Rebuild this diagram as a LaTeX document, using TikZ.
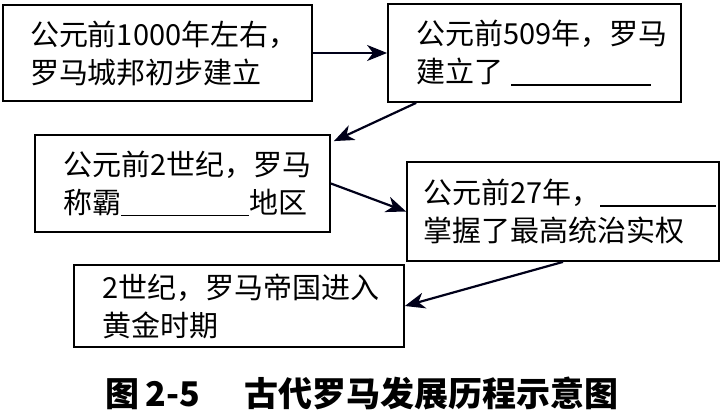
\documentclass[tikz,border=0pt]{standalone}
\usepackage{fontspec}
\newfontfamily\cjk{Noto Sans CJK SC}
\usetikzlibrary{arrows.meta}
\begin{document}
\begin{tikzpicture}[>={Stealth[length=10pt,width=8pt,inset=3pt]},x=1pt,y=1pt,font=\cjk\fontsize{14.5pt}{19pt}\selectfont]
	\tikzset{stage/.style={draw,line width=0.9pt,align=left,inner ysep=0pt},
		link/.style={->,line width=1.1pt,draw=black!90!blue}}
	\def\blank#1{\rule[-1.5pt]{#1}{0.7pt}}
	\useasboundingbox (0,0) rectangle (364,209);
	%Các ô:
	\node[stage,text width=127.5pt,inner xsep=13.5pt,minimum height=48pt] (s1) at (78.75,182.5)
		{公元前1000年左右，\\罗马城邦初步建立};
	\node[stage,text width=118.5pt,inner xsep=14pt,minimum height=49pt] (s2) at (267.25,182.5)
		{公元前509年，罗马\\建立了\hspace{4pt}\blank{70pt}};
	\node[stage,text width=119.5pt,inner xsep=14pt,minimum height=48.5pt] (s3) at (91.25,117.25)
		{公元前2世纪，罗马\\称霸\blank{64pt}地区};
	\node[stage,text width=140pt,inner xsep=8pt,minimum height=49.5pt] (s4) at (281.5,103.25)
		{公元前27年，\blank{58pt}\\掌握了最高统治实权};
	\node[stage,text width=137pt,inner xsep=14pt,minimum height=41pt] (s5) at (119.5,56)
		{2世纪，罗马帝国进入\\黄金时期};
	\node[font=\cjk\bfseries\fontsize{17pt}{20pt}\selectfont] (cap) at (181,12.5)
		{图\,2-5\hspace{1.3em}古代罗马发展历程示意图};
	%Mũi tên:
	\draw[link] (s1) -- (s2);
	\draw[link] ([xshift=14.5pt]s2.south west) -- ([xshift=1.5pt,yshift=-3.5pt]s3.north east);
	\draw[link] (s3.east) -- (s4.west);
	\draw[link] (s4.south) -- (s5.east);
\end{tikzpicture}
\end{document}
